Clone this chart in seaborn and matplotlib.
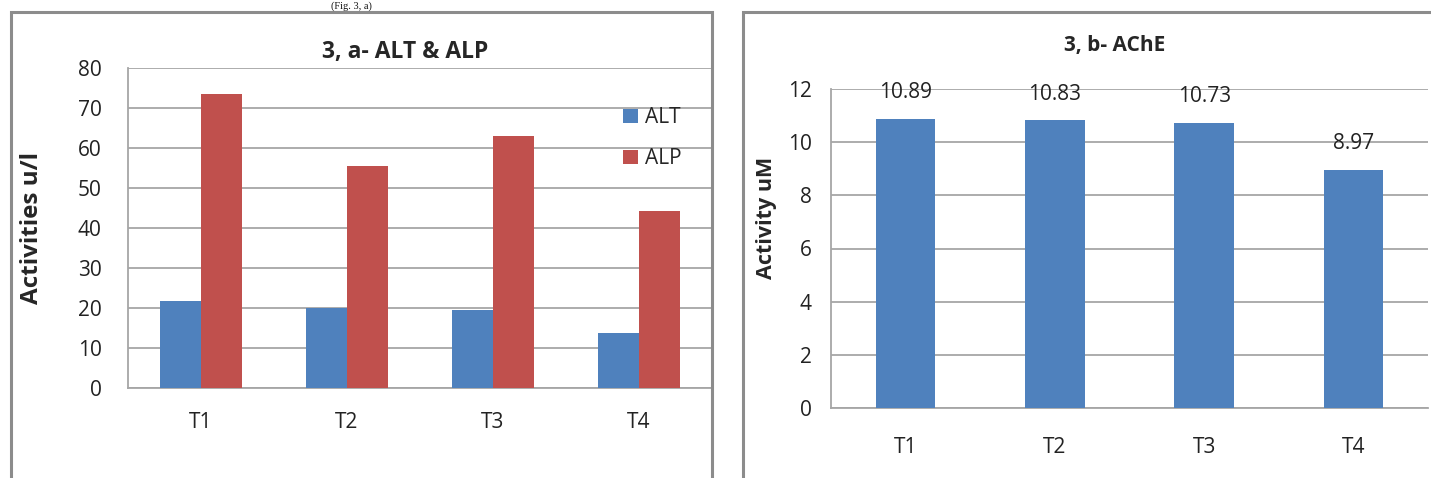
import pandas as pd
import matplotlib
matplotlib.use("Agg")
import matplotlib.pyplot as plt
import seaborn as sns

# data
groups = ["T1", "T2", "T3", "T4"]
alt_values = [21.8, 20.1, 19.5, 13.7]
alp_values = [73.5, 55.6, 63.1, 44.3]
ache_values = [10.89, 10.83, 10.73, 8.97]

BLUE = "#4F81BD"
RED = "#C0504D"
GRID = "#A6A6A6"
BORDER = "#8C8C8C"

W, H = 1431, 478

sns.set_theme(style="white")
plt.rcParams['font.family'] = ['Open Sans', 'DejaVu Sans']

fig = plt.figure(figsize=(W / 100, H / 100), dpi=100)


def box(x0, y0, x1, y1):
    # pixel box -> figure fraction rect
    return [x0 / W, 1 - y1 / H, (x1 - x0) / W, (y1 - y0) / H]


# panel frames
for x0, x1 in [(11, 712), (743, 1480)]:
    r = plt.Rectangle((x0 / W, -0.05), (x1 - x0) / W, 1 - 12 / H + 0.05,
                      transform=fig.transFigure, fill=False,
                      edgecolor=BORDER, linewidth=2.2)
    fig.add_artist(r)

# caption squeezed into the strip above the frames
fig.text(351 / W, 1 - 1 / H, "(Fig. 3, a)", family="Liberation Serif",
         fontsize=7.5, ha="center", va="top", color="#111111")

# ---------- left: ALT & ALP ----------
df = pd.DataFrame({
    "group": groups * 2,
    "value": alt_values + alp_values,
    "enzyme": ["ALT"] * 4 + ["ALP"] * 4,
})

ax1 = fig.add_axes(box(128, 68, 712, 388))
sns.barplot(data=df, x="group", y="value", hue="enzyme",
            palette=[BLUE, RED], width=0.56, saturation=1,
            edgecolor="none", ax=ax1, zorder=3)
ax1.set_ylim(0, 80)
ax1.set_yticks(range(0, 81, 10))
ax1.yaxis.grid(True, color=GRID, linewidth=1.3, zorder=0)
ax1.set_axisbelow(True)
for s in ["top", "right"]:
    ax1.spines[s].set_visible(False)
for s in ["left", "bottom"]:
    ax1.spines[s].set_color(GRID)
    ax1.spines[s].set_linewidth(1.3)
ax1.tick_params(axis="y", length=0, pad=19, labelsize=15, colors="#222222")
ax1.tick_params(axis="x", length=0, pad=17, labelsize=15, colors="#222222")
ax1.set_xlabel("")
ax1.set_ylabel("")
fig.text(32 / W, 1 - 228 / H, "Activities u/l", rotation=90, fontsize=17.5,
         fontweight="bold", ha="center", va="center")
fig.text(405 / W, 1 - 52 / H, "3, a- ALT & ALP", fontsize=16.5,
         fontweight="bold", ha="center", va="center")
handles, labels = ax1.get_legend_handles_labels()
ax1.legend(handles, labels, loc="upper left",
           bbox_to_anchor=(613 / W, 1 - 97 / H),
           bbox_transform=fig.transFigure, frameon=False, fontsize=15,
           handlelength=0.7, handleheight=0.7, handletextpad=0.35,
           labelspacing=0.95, borderpad=0)

# ---------- right: AChE ----------
df2 = pd.DataFrame({"group": groups, "value": ache_values})

ax2 = fig.add_axes(box(831, 89, 1428, 408))
sns.barplot(data=df2, x="group", y="value", color=BLUE, width=0.4,
            saturation=1, edgecolor="none", ax=ax2, zorder=3)
ax2.set_ylim(0, 12)
ax2.set_yticks(range(0, 13, 2))
ax2.yaxis.grid(True, color=GRID, linewidth=1.3, zorder=0)
ax2.set_axisbelow(True)
for s in ["top", "right"]:
    ax2.spines[s].set_visible(False)
for s in ["left", "bottom"]:
    ax2.spines[s].set_color(GRID)
    ax2.spines[s].set_linewidth(1.3)
ax2.set_xlim(-0.5, 3.5)
ax2.set_xticks([i - 0.5 for i in range(5)], minor=True)
ax2.tick_params(axis="x", which="minor", length=7, width=1.3, color=GRID)
ax2.tick_params(axis="x", which="major", length=0, pad=21, labelsize=15,
                labelcolor="#222222")
ax2.tick_params(axis="y", length=7, width=1.3, color=GRID, pad=7,
                labelsize=15, labelcolor="#222222")
ax2.bar_label(ax2.containers[0], fmt="%.2f", padding=11,
              fontsize=15, color="#222222")
ax2.set_xlabel("")
ax2.set_ylabel("")
fig.text(766 / W, 1 - 218 / H, "Activity uM", rotation=90, fontsize=15.5,
         fontweight="bold", ha="center", va="center")
fig.text(1115 / W, 1 - 45 / H, "3, b- AChE", fontsize=15,
         fontweight="bold", ha="center", va="center")

fig.savefig("out.png", dpi=100)
